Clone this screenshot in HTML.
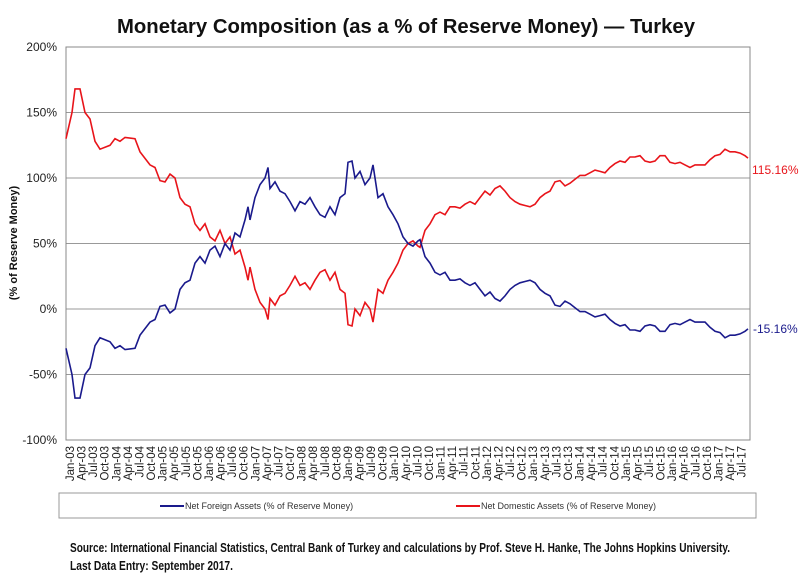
<!DOCTYPE html>
<html><head><meta charset="utf-8"><style>
body{margin:0;background:#fff;}
svg{display:block;font-family:"Liberation Sans",Arial,sans-serif;}
</style></head><body>
<svg id="s" width="800" height="580" viewBox="0 0 800 580">
<rect width="800" height="580" fill="#fff"/>
<text x="406" y="33" text-anchor="middle" font-size="20" font-weight="bold" fill="#111" textLength="578" lengthAdjust="spacingAndGlyphs">Monetary Composition (as a % of Reserve Money) — Turkey</text>
<text transform="translate(17,243) rotate(-90)" text-anchor="middle" font-size="11" font-weight="bold" fill="#111">(% of Reserve Money)</text>
<g id="grid"></g>
<rect x="66" y="47" width="684" height="393" fill="none" stroke="#888" stroke-width="1"/>
<polyline id="red" fill="none" stroke="#e8141a" stroke-width="1.6"/>
<polyline id="blue" fill="none" stroke="#1a1a8c" stroke-width="1.6"/>
<text x="752" y="174" font-size="12" fill="#e8141a">115.16%</text>
<text x="753" y="333" font-size="12" fill="#1a1a8c">-15.16%</text>
<g id="xl" font-size="11.5" fill="#222"></g>
<rect x="59" y="493" width="697" height="25" fill="#fff" stroke="#999"/>
<line x1="160" y1="506" x2="184" y2="506" stroke="#1a1a8c" stroke-width="2"/>
<text x="185" y="509" font-size="9" fill="#333">Net Foreign Assets (% of Reserve Money)</text>
<line x1="456" y1="506" x2="480" y2="506" stroke="#e8141a" stroke-width="2"/>
<text x="481" y="509" font-size="9" fill="#333">Net Domestic Assets (% of Reserve Money)</text>
<text x="70" y="552" font-size="12.5" font-weight="bold" fill="#111" textLength="660" lengthAdjust="spacingAndGlyphs">Source: International Financial Statistics, Central Bank of Turkey and calculations by Prof. Steve H. Hanke, The Johns Hopkins University.</text>
<text x="70" y="570" font-size="12.5" font-weight="bold" fill="#111" textLength="163" lengthAdjust="spacingAndGlyphs">Last Data Entry: September 2017.</text>
</svg>
<script>
var ns="http://www.w3.org/2000/svg";
function Y(v){return 309-v*1.31;}
var g=document.getElementById('grid');
[200,150,100,50,0,-50,-100].forEach(function(v){
 var y=Y(v);
 if(v>-100&&v<200){var l=document.createElementNS(ns,'line');l.setAttribute('x1',66);l.setAttribute('x2',750);l.setAttribute('y1',y);l.setAttribute('y2',y);l.setAttribute('stroke','#999');g.appendChild(l);}
 var t=document.createElementNS(ns,'text');t.setAttribute('x',57);t.setAttribute('y',y+4);t.setAttribute('text-anchor','end');t.setAttribute('font-size','12');t.setAttribute('fill','#222');t.textContent=v+'%';g.appendChild(t);
});
var mo=['Jan','Apr','Jul','Oct'],xl=document.getElementById('xl');
for(var i=0;i<59;i++){var yr=3+Math.floor(i/4);var lab=mo[i%4]+'-'+(yr<10?'0':'')+yr;var x=70+i*3*3.86;
 var t=document.createElementNS(ns,'text');t.setAttribute('transform','translate('+(x+4)+',446) rotate(-90)');t.setAttribute('text-anchor','end');t.textContent=lab;xl.appendChild(t);}
var d=[[66,-30],[72,-50],[75,-68],[80,-68],[85,-50],[90,-45],[95,-28],[100,-22],[110,-25],[115,-30],[120,-28],[125,-31],[135,-30],[140,-20],[150,-10],[155,-8],[160,2],[165,3],[170,-3],[175,0],[180,15],[185,20],[190,22],[195,35],[200,40],[205,35],[210,45],[215,48],[220,40],[225,50],[230,45],[235,58],[240,55],[245,68],[248,78],[250,68],[255,85],[260,95],[265,100],[268,108],[270,92],[275,97],[280,90],[285,88],[290,82],[295,75],[300,82],[305,80],[310,85],[315,78],[320,72],[325,70],[330,78],[335,72],[340,85],[345,88],[348,112],[352,113],[355,100],[360,105],[365,95],[370,100],[373,110],[378,85],[383,88],[388,78],[393,72],[398,65],[403,55],[408,50],[413,48],[418,52],[420,53],[425,40],[430,35],[435,28],[440,26],[445,28],[450,22],[455,22],[460,23],[465,20],[470,18],[475,20],[480,15],[485,10],[490,13],[495,8],[500,6],[505,10],[510,15],[515,18],[520,20],[525,21],[530,22],[535,20],[540,15],[545,12],[550,10],[555,3],[560,2],[565,6],[570,4],[575,1],[580,-2],[585,-2],[590,-4],[595,-6],[600,-5],[605,-4],[610,-8],[615,-11],[620,-13],[625,-12],[630,-16],[635,-16],[640,-17],[645,-13],[650,-12],[655,-13],[660,-17],[665,-17],[670,-12],[675,-11],[680,-12],[685,-10],[690,-8],[695,-10],[700,-10],[705,-10],[710,-14],[715,-17],[720,-18],[725,-22],[730,-20],[735,-20],[740,-19],[745,-17],[748,-15.16]];
document.getElementById('blue').setAttribute('points',d.map(function(p){return p[0]+','+Y(p[1]).toFixed(1)}).join(' '));
document.getElementById('red').setAttribute('points',d.map(function(p){return p[0]+','+Y(100-p[1]).toFixed(1)}).join(' '));
</script>
</body></html>
